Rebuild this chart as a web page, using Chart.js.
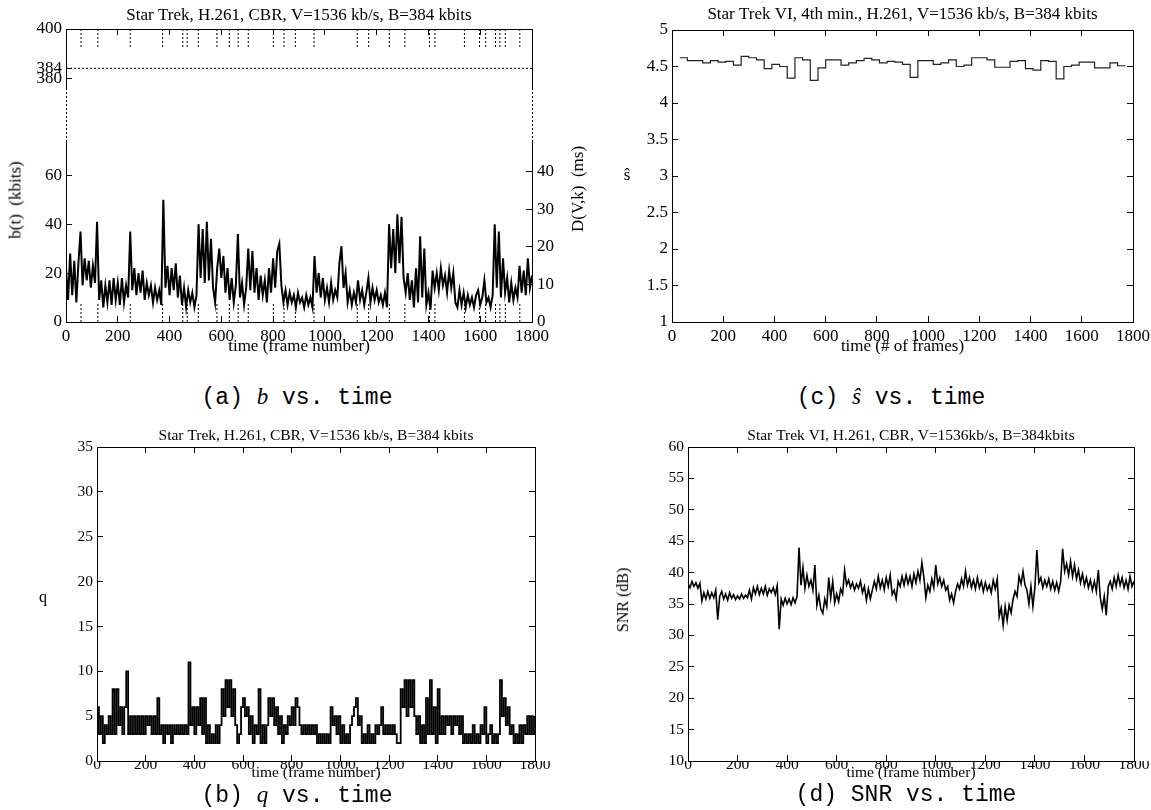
<!DOCTYPE html>
<html lang="en">
<head>
<meta charset="UTF-8">
<title>Star Trek, H.261, CBR - b, q, s-hat and SNR vs. time</title>
<script src="https://cdn.jsdelivr.net/npm/chart.js"></script>
<style>
  html, body { margin: 0; padding: 0; background: #fff; overflow: hidden; }
  #page { position: relative; width: 1151px; height: 810px; overflow: hidden; }
  canvas { position: absolute; }
  .lbl { position: absolute; font-family: "Liberation Serif", "Times New Roman", serif; color: #000; white-space: pre; line-height: 1; }
  .ctr { transform: translate(-50%, -50%); }
  .rot { transform: translate(-50%, -50%) rotate(-90deg); }
  .caption { font-family: "Liberation Mono", monospace; font-size: 23px; }
  .m { font-family: "Liberation Serif", serif; font-style: italic; }
</style>
</head>
<body>
<div id="page">
  <canvas id="cA1" width="598" height="110" style="left:0;top:0"></canvas>
  <canvas id="cA2" width="592" height="272" style="left:0;top:88px"></canvas>
  <canvas id="cC" width="620" height="360" style="left:600px;top:0"></canvas>
  <canvas id="cB" width="600" height="390" style="left:0;top:420px"></canvas>
  <canvas id="cD" width="620" height="390" style="left:600px;top:420px"></canvas>

  <!-- axis labels that gnuplot placed by hand -->
  <div class="lbl rot" style="left:15px;top:200px;font-size:17px">b(t)  (kbits)</div>
  <div class="lbl rot" style="left:577px;top:189px;font-size:17px">D(V,k)  (ms)</div>
  <div class="lbl ctr" style="left:627px;top:174px;font-size:17px">ŝ</div>
  <div class="lbl ctr" style="left:43px;top:597px;font-size:16px">q</div>
  <div class="lbl rot" style="left:623px;top:600px;font-size:16px">SNR (dB)</div>

  <!-- sub-figure captions -->
  <div class="lbl ctr caption" style="left:297px;top:397px">(a) <span class="m">b</span> vs. time</div>
  <div class="lbl ctr caption" style="left:891px;top:397px">(c) <span class="m">ŝ</span> vs. time</div>
  <div class="lbl ctr caption" style="left:297px;top:795px">(b) <span class="m">q</span> vs. time</div>
  <div class="lbl ctr caption" style="left:906px;top:795px">(d) SNR vs. time</div>
</div>

<script>
// one sample every FRAME_STEP frames, starting at frame 0
const FRAME_STEP = 8;

// b(t) in kbits
const B_KBITS = [
  22, 9, 28, 11, 25, 8, 24, 37, 15, 26,
  17, 25, 14, 23, 16, 41, 9, 17, 6, 15,
  8, 17, 7, 18, 9, 16, 7, 18, 8, 15,
  10, 37, 13, 22, 11, 20, 12, 21, 9, 16,
  11, 15, 8, 14, 9, 13, 7, 50, 14, 23,
  11, 22, 13, 24, 10, 19, 7, 14, 6, 13,
  8, 12, 6, 11, 40, 18, 38, 16, 41, 17,
  34, 14, 8, 22, 30, 18, 27, 12, 22, 9,
  18, 8, 15, 36, 10, 16, 7, 14, 30, 13,
  29, 12, 22, 9, 19, 11, 17, 8, 22, 12,
  26, 14, 29, 32, 15, 8, 13, 7, 12, 8,
  11, 6, 12, 8, 10, 6, 11, 7, 10, 6,
  27, 12, 20, 10, 18, 9, 14, 8, 16, 9,
  13, 10, 24, 31, 14, 20, 8, 13, 7, 12,
  8, 17, 9, 13, 7, 12, 18, 8, 14, 9,
  13, 8, 11, 7, 12, 6, 40, 22, 38, 20,
  44, 24, 43, 18, 12, 20, 9, 17, 6, 22,
  8, 35, 10, 30, 7, 12, 5, 21, 14, 20,
  13, 22, 15, 19, 12, 21, 14, 20, 8, 6,
  13, 7, 12, 6, 11, 7, 10, 6, 11, 13,
  7, 10, 17, 8, 10, 6, 11, 40, 14, 37,
  10, 26, 12, 18, 8, 16, 9, 14, 10, 23,
  12, 21, 11, 26, 14, 19
];

// quantizer step q
const Q_SCALE = [
  6, 3, 5, 2, 4, 3, 5, 3, 8, 3,
  8, 4, 6, 3, 6, 10, 3, 5, 3, 5,
  3, 5, 3, 5, 3, 5, 4, 5, 3, 5,
  3, 7, 3, 4, 2, 4, 3, 4, 2, 4,
  3, 4, 3, 4, 3, 4, 3, 11, 4, 6,
  3, 6, 4, 7, 3, 7, 2, 4, 2, 3,
  2, 4, 2, 4, 8, 5, 9, 6, 9, 5,
  8, 4, 2, 3, 6, 7, 5, 6, 3, 5,
  2, 4, 3, 8, 2, 4, 2, 4, 7, 5,
  7, 4, 6, 3, 5, 2, 4, 3, 5, 4,
  6, 4, 7, 6, 4, 3, 4, 3, 4, 3,
  4, 3, 4, 2, 3, 2, 3, 2, 3, 2,
  6, 4, 5, 3, 5, 2, 4, 2, 3, 2,
  4, 5, 6, 7, 4, 5, 2, 3, 2, 4,
  2, 3, 2, 4, 3, 4, 6, 3, 4, 3,
  4, 3, 4, 3, 2, 2, 8, 6, 9, 5,
  9, 6, 9, 5, 3, 5, 2, 4, 2, 7,
  3, 9, 3, 6, 2, 8, 3, 5, 3, 5,
  4, 5, 3, 5, 4, 5, 3, 5, 2, 3,
  2, 3, 2, 4, 2, 3, 2, 4, 3, 6,
  2, 3, 4, 2, 3, 2, 3, 9, 5, 7,
  4, 6, 3, 4, 2, 3, 2, 4, 2, 4,
  3, 5, 3, 5, 3, 5
];

// SNR in dB
const SNR_DB = [
  38.2, 37.6, 38.6, 37.8, 38.4, 37.5, 38.3, 35.5, 36.8, 35.8,
  37.0, 35.9, 36.8, 36.0, 37.2, 32.5, 36.2, 37.0, 35.8, 36.6,
  35.6, 36.8, 35.9, 36.5, 35.7, 36.3, 35.8, 36.6, 35.9, 36.4,
  36.0, 37.2, 35.8, 37.6, 36.6, 37.8, 36.5, 37.5, 36.6, 37.8,
  36.4, 37.4, 36.8, 37.6, 36.5, 37.9, 31.0, 35.8, 34.8, 35.9,
  35.0, 35.8, 34.9, 36.0, 35.2, 36.2, 44.0, 38.0, 40.8, 37.5,
  39.6, 37.8, 38.8, 37.2, 41.2, 34.8, 36.4, 34.2, 33.5, 35.8,
  34.6, 39.2, 36.0, 38.6, 35.2, 36.6, 35.4, 37.4, 36.6, 40.4,
  38.0, 38.8, 37.6, 38.4, 37.2, 38.2, 37.5, 38.6, 36.8, 37.8,
  35.6, 37.4, 35.8, 37.2, 38.6, 37.4, 39.4, 37.6, 38.8, 37.3,
  39.2, 37.8, 39.6, 36.5, 37.2, 35.8, 38.6, 37.8, 39.4, 38.0,
  39.6, 38.2, 39.4, 37.8, 39.8, 38.4, 40.2, 38.8, 41.6, 39.2,
  36.0, 38.0, 37.0, 39.0, 37.6, 41.2, 38.2, 39.2, 37.8, 38.8,
  37.2, 37.8, 35.6, 36.6, 35.2, 37.0, 38.2, 37.4, 39.0, 37.8,
  40.2, 38.0, 39.2, 37.6, 38.8, 37.4, 39.2, 37.6, 38.6, 37.0,
  38.4, 37.2, 38.0, 36.8, 38.8, 37.4, 39.0, 33.0, 34.4, 31.6,
  34.6, 32.4, 34.8, 33.6, 35.8, 37.0, 36.2, 39.4, 38.2, 40.2,
  38.0, 37.2, 35.0, 37.8, 34.6, 37.6, 43.6, 38.4, 39.2, 37.6,
  38.8, 37.8, 39.0, 37.4, 38.6, 37.2, 38.4, 37.0, 38.6, 43.8,
  40.2, 41.4, 39.6, 41.8, 39.4, 41.2, 39.0, 40.4, 38.4, 39.8,
  38.0, 39.2, 37.6, 38.8, 37.2, 38.6, 37.0, 40.4, 36.0, 34.2,
  36.2, 33.2, 37.8, 38.6, 37.4, 39.2, 37.8, 39.6, 38.0, 39.2,
  37.6, 38.8, 37.4, 39.4, 37.8, 38.6
];

// s-hat, one value per 30-frame block starting at frame 30
const SHAT_START = 30;
const SHAT_BLOCK = 30;
const S_HAT = [
  4.62, 4.58, 4.58, 4.55, 4.58, 4.56, 4.57, 4.52, 4.64, 4.62,
  4.59, 4.47, 4.53, 4.50, 4.34, 4.62, 4.59, 4.31, 4.48, 4.59,
  4.59, 4.52, 4.55, 4.58, 4.61, 4.59, 4.55, 4.57, 4.56, 4.53,
  4.35, 4.58, 4.58, 4.53, 4.55, 4.59, 4.50, 4.52, 4.62, 4.62,
  4.59, 4.49, 4.49, 4.57, 4.58, 4.47, 4.45, 4.58, 4.57, 4.33,
  4.50, 4.52, 4.56, 4.56, 4.48, 4.48, 4.55, 4.51
];

// frames marked with dotted lines in (a)
const MARK_FRAMES = [58, 123, 248, 373, 451, 468, 511, 583, 631, 665, 704, 801, 842, 886,
  958, 1125, 1169, 1249, 1309, 1404, 1425, 1539, 1597, 1621, 1659, 1676, 1697, 1753];

const BUFFER_KBITS = 384;     // B
const RATE_KBPS = 1536;       // V

const FRAME_TICKS = [0, 200, 400, 600, 800, 1000, 1200, 1400, 1600, 1800];
const B_TICKS_HIGH = [380, 384, 400];
const B_TICKS_LOW = [0, 20, 40, 60];
const D_TICKS = [0, 10, 20, 30, 40];
const Q_TICKS = [0, 5, 10, 15, 20, 25, 30, 35];
const SHAT_TICKS = [1, 1.5, 2, 2.5, 3, 3.5, 4, 4.5, 5];
const SNR_TICKS = [10, 15, 20, 25, 30, 35, 40, 45, 50, 55, 60];

const TITLE_A = 'Star Trek, H.261, CBR, V=1536 kb/s, B=384 kbits';
const TITLE_B = 'Star Trek, H.261, CBR, V=1536 kb/s, B=384 kbits';
const TITLE_C = 'Star Trek VI, 4th min., H.261, V=1536 kb/s, B=384 kbits';
const TITLE_D = 'Star Trek VI, H.261, CBR, V=1536kb/s, B=384kbits';

Chart.defaults.font.family = '"Liberation Serif", "Times New Roman", serif';
Chart.defaults.color = '#000';

const B_LOW_MAX = 74;      // lower part of the broken b axis
const B_HIGH_MIN = 376;    // upper part

function series(values, start, step) {
  return values.map((v, i) => ({ x: start + i * step, y: v }));
}

function markLines(frames, from, to) {
  const pts = [];
  frames.forEach(f => pts.push({ x: f, y: from }, { x: f, y: to }, { x: f, y: null }));
  return pts;
}

function frameAxis(position, size, o) {
  o = o || {};
  return {
    type: 'linear', position: position, min: 0, max: 1800,
    afterBuildTicks: s => { s.ticks = FRAME_TICKS.map(v => ({ value: v })); },
    ticks: { display: !!o.labels, font: { size: size }, padding: o.pad || 0, maxRotation: 0, autoSkip: false, callback: v => String(v) },
    grid: { drawOnChartArea: false, tickLength: -6, tickColor: '#000', tickWidth: 1 },
    border: { color: '#000', width: 1 },
    title: o.title ? { display: true, text: o.title, font: { size: size }, padding: { top: 0, bottom: o.titlePad } } : { display: false },
    afterFit: s => { s.height = o.height || 0; }
  };
}

function valueAxis(position, min, max, ticks, size, labels, width, pad) {
  return {
    type: 'linear', position: position, min: min, max: max,
    afterBuildTicks: s => { s.ticks = ticks.map(v => ({ value: v })); },
    ticks: { display: labels, font: { size: size }, padding: pad || 10, callback: v => String(v) },
    grid: { drawOnChartArea: false, drawTicks: ticks.length > 0, tickLength: -6, tickColor: '#000' },
    border: { color: '#000', width: 1 },
    afterFit: s => { s.width = width; }
  };
}

function baseOptions(padding, title, titleSize, titlePad, scales) {
  return {
    responsive: false, animation: false, devicePixelRatio: 1,
    layout: { padding: padding },
    plugins: {
      legend: { display: false },
      tooltip: { enabled: false },
      title: title ? { display: true, text: title, color: '#000', font: { size: titleSize, weight: 'normal', lineHeight: 1 }, padding: titlePad } : { display: false }
    },
    scales: scales
  };
}

const lineStyle = { borderColor: '#000', borderWidth: 1.6, pointRadius: 0, fill: false, tension: 0 };
const dotStyle = { borderColor: '#000', borderWidth: 1, borderDash: [2, 2], pointRadius: 0, fill: false, spanGaps: false };

// dotted left/right border across the axis break
const breakBorders = {
  id: 'breakBorders',
  afterDraw(chart) {
    const { ctx, chartArea } = chart;
    ctx.save();
    ctx.strokeStyle = '#000';
    ctx.lineWidth = 1;
    ctx.setLineDash([2, 2]);
    ctx.beginPath();
    ctx.moveTo(chartArea.left + 0.5, 0);
    ctx.lineTo(chartArea.left + 0.5, chartArea.top);
    ctx.moveTo(chartArea.right + 0.5, 0);
    ctx.lineTo(chartArea.right + 0.5, chartArea.top);
    ctx.stroke();
    ctx.restore();
  }
};

// (a) upper part of the broken axis: buffer size B
new Chart(document.getElementById('cA1'), {
  type: 'line',
  data: { datasets: [
    Object.assign({ data: [{ x: 0, y: BUFFER_KBITS }, { x: 1800, y: BUFFER_KBITS }] }, dotStyle),
    Object.assign({ data: markLines(MARK_FRAMES, 400, 392.6) }, dotStyle)
  ] },
  options: baseOptions({ left: 0, right: 0, top: 0, bottom: 22 }, TITLE_A, 17, { top: 7, bottom: 5 }, {
    x: frameAxis('top', 17, {}),
    y: valueAxis('left', B_HIGH_MIN, 400, B_TICKS_HIGH, 17, true, 66),
    yR: valueAxis('right', B_HIGH_MIN, 400, [], 17, false, 66)
  })
});

// (a) lower part: b(t) with the delay axis D = b / V on the right
new Chart(document.getElementById('cA2'), {
  type: 'line',
  data: { datasets: [
    Object.assign({ data: series(B_KBITS, 0, FRAME_STEP) }, lineStyle, { borderWidth: 2 }),
    Object.assign({ data: markLines(MARK_FRAMES, 0, 8) }, dotStyle)
  ] },
  options: baseOptions({ left: 0, right: 0, top: 53, bottom: 0 }, null, 0, 0, {
    x: frameAxis('bottom', 17, { labels: true, pad: 10, height: 38, title: 'time (frame number)', titlePad: 3 }),
    y: valueAxis('left', 0, B_LOW_MAX, B_TICKS_LOW, 17, true, 66),
    yD: valueAxis('right', 0, B_LOW_MAX / (RATE_KBPS / 1000), D_TICKS, 17, true, 60, 11)
  }),
  plugins: [breakBorders]
});

// (c) s-hat, one step per block
const shatPoints = series(S_HAT, SHAT_START, SHAT_BLOCK);
shatPoints.push({ x: SHAT_START + S_HAT.length * SHAT_BLOCK, y: S_HAT[S_HAT.length - 1] });
new Chart(document.getElementById('cC'), {
  type: 'line',
  data: { datasets: [
    Object.assign({ data: shatPoints, stepped: true }, lineStyle, { borderColor: '#222', borderWidth: 1.2 })
  ] },
  options: baseOptions({ left: 12, right: 27, top: 0, bottom: 0 }, TITLE_C, 17, { top: 6.5, bottom: 6.5 }, {
    x: frameAxis('bottom', 17, { labels: true, pad: 10, height: 38, title: 'time (# of frames)', titlePad: 3 }),
    xT: frameAxis('top', 17, {}),
    y: valueAxis('left', 1, 5, SHAT_TICKS, 17, true, 60),
    yR: valueAxis('right', 1, 5, SHAT_TICKS, 17, false, 60)
  })
});

// (b) q vs. time
new Chart(document.getElementById('cB'), {
  type: 'line',
  data: { datasets: [
    Object.assign({ data: series(Q_SCALE, 0, FRAME_STEP), stepped: true }, lineStyle, { borderWidth: 1.8 })
  ] },
  options: baseOptions({ left: 37, right: 5, top: 0, bottom: 0 }, TITLE_B, 15.5, { top: 8.5, bottom: 3 }, {
    x: frameAxis('bottom', 15.5, { labels: true, pad: 1, height: 49, title: 'time (frame number)', titlePad: 27.7 }),
    xT: frameAxis('top', 15.5, {}),
    y: valueAxis('left', 0, 35, Q_TICKS, 15.5, true, 60),
    yR: valueAxis('right', 0, 35, Q_TICKS, 15.5, false, 60)
  })
});

// (d) SNR vs. time
new Chart(document.getElementById('cD'), {
  type: 'line',
  data: { datasets: [
    Object.assign({ data: series(SNR_DB, 0, FRAME_STEP) }, lineStyle, { borderWidth: 1.6 })
  ] },
  options: baseOptions({ left: 28, right: 26, top: 0, bottom: 0 }, TITLE_D, 15.5, { top: 8.5, bottom: 3 }, {
    x: frameAxis('bottom', 15.5, { labels: true, pad: 1, height: 49, title: 'time (frame number)', titlePad: 27.7 }),
    xT: frameAxis('top', 15.5, {}),
    y: valueAxis('left', 10, 60, SNR_TICKS, 15.5, true, 60),
    yR: valueAxis('right', 10, 60, SNR_TICKS, 15.5, false, 60)
  })
});
</script>
</body>
</html>
